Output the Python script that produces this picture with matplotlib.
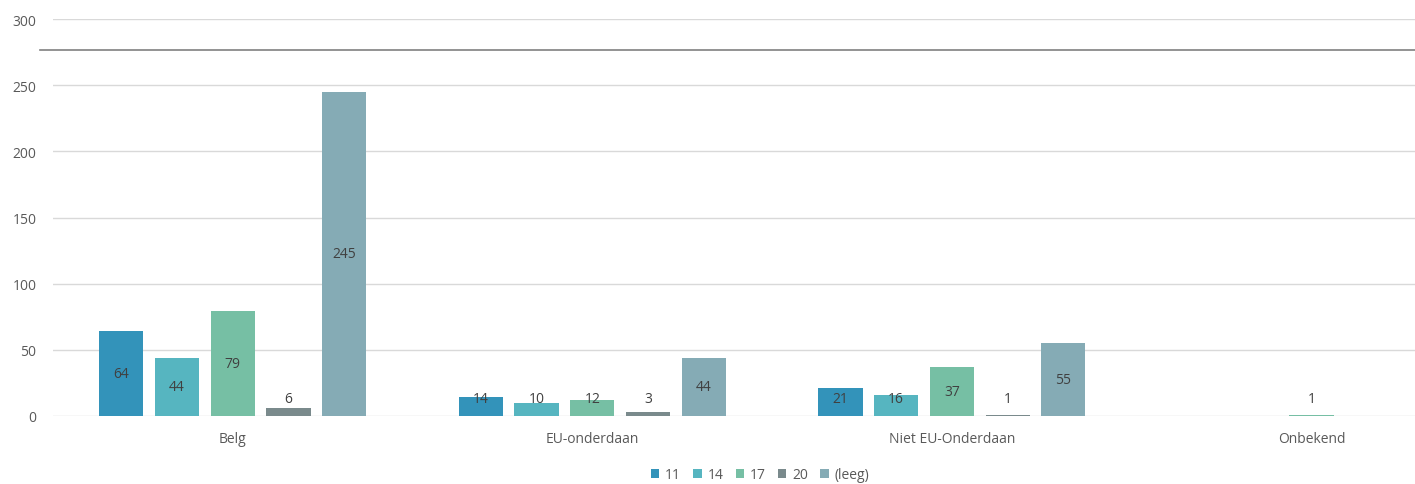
import matplotlib
matplotlib.use('Agg')
from matplotlib import pyplot as plt
from matplotlib.lines import Line2D
import numpy as np

categories = ['Belg', 'EU-onderdaan', 'Niet EU-Onderdaan', 'Onbekend']
series = ['11', '14', '17', '20', '(leeg)']
values = {
    '11': [64, 14, 21, None],
    '14': [44, 10, 16, None],
    '17': [79, 12, 37, 1],
    '20': [6, 3, 1, None],
    '(leeg)': [245, 44, 55, None],
}
colors = ['#3393BA', '#56B5C0', '#76BFA4', '#7A8A8C', '#85ABB5']

plt.rcParams['font.family'] = ['Open Sans', 'DejaVu Sans']

fig = plt.figure(figsize=(14.15, 4.85), dpi=100)
ax = fig.add_axes([53 / 1415, 68 / 485, 1 - 53 / 1415, 397 / 485])

x = np.arange(len(categories))
width = 0.123
step = 0.155
for i, (name, col) in enumerate(zip(series, colors)):
    offs = (i - 2) * step
    for j, v in enumerate(values[name]):
        if v is None:
            continue
        ax.bar(x[j] + offs, v, width=width, color=col, zorder=3,
               label=name if j == 0 else None)
        ax.text(x[j] + offs, max(v / 2, 13), str(v), ha='center', va='center',
                fontsize=10, color='#404040', zorder=4)

ax.set_ylim(0, 300)
ax.set_xlim(-0.5, 3.288)
ax.set_yticks(range(0, 301, 50))
ax.set_xticks(x)
ax.set_xticklabels(categories)
ax.grid(axis='y', color='#D9D9D9', linewidth=1, zorder=0)
for s in ax.spines.values():
    s.set_visible(False)
ax.tick_params(axis='both', length=0, labelsize=10, colors='#595959')
ax.tick_params(axis='y', pad=12)
ax.tick_params(axis='x', pad=11)

fig.add_artist(Line2D([40 / 1415, 1], [1 - 51 / 485, 1 - 51 / 485],
                      color='#808080', linewidth=1.2))

ax.legend(loc='center', bbox_to_anchor=((760 - 53) / 1362, -0.148), ncol=5,
          frameon=False, fontsize=10, handlelength=0.6, handleheight=0.6,
          handletextpad=0.4, columnspacing=0.9, labelcolor='#595959')

fig.savefig('out.png', dpi=100)
